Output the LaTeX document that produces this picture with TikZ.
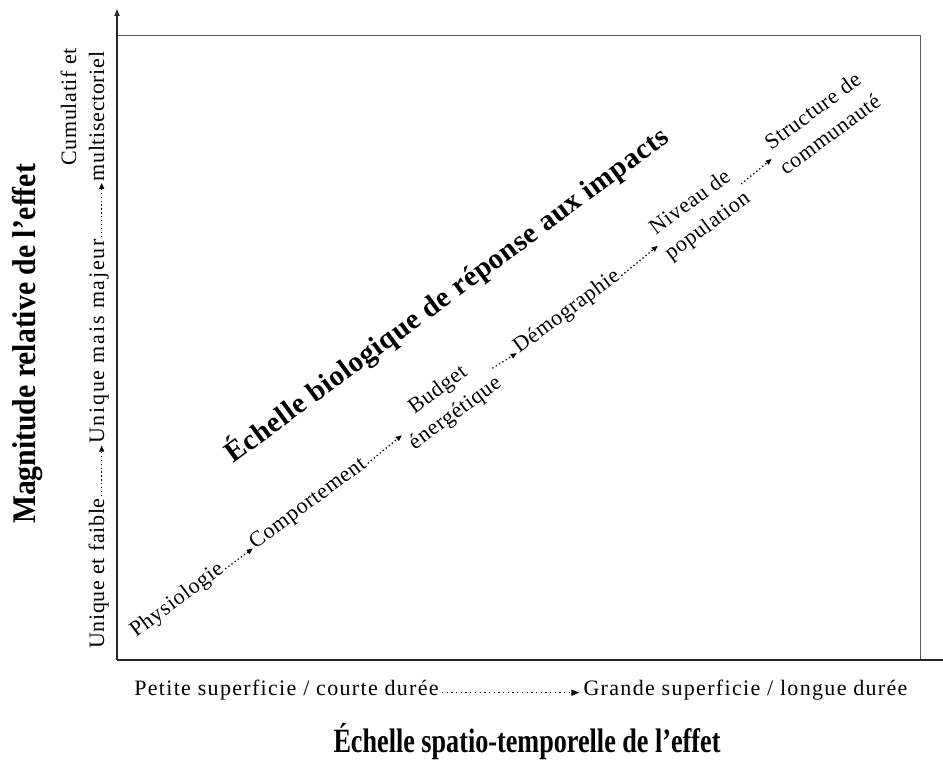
\documentclass[tikz,border=0pt]{standalone}
\usepackage{fontspec}
\usepackage{graphicx}
\setmainfont{Liberation Serif}
\newfontfamily\trk[LetterSpace=3]{Liberation Serif}
\newfontfamily\trkmid[LetterSpace=6]{Liberation Serif}
\newfontfamily\trkwide[LetterSpace=8]{Liberation Serif}
\newfontfamily\trkb[LetterSpace=2]{Liberation Serif}
\usetikzlibrary{arrows.meta}
\begin{document}
\begin{tikzpicture}[x=1pt,y=-1pt,
  axisline/.style={line width=2.2pt, black!85},
  frameline/.style={line width=0.9pt, black!65},
  sublabel/.style={inner sep=1pt, font=\trk\fontsize{22}{29}\selectfont},
  chainitem/.style={inner sep=1pt, font=\trk\fontsize{22}{29}\selectfont},
  dotarrow/.style={line width=1.3pt, dash pattern=on 1.3pt off 2.6pt,
     -{Triangle[length=6pt,width=5pt]}, shorten <=1pt, shorten >=0.5pt},
  longdot/.style={line width=1.3pt, dash pattern=on 1.3pt off 3.4pt,
     -{Triangle[length=8pt,width=6pt]}, shorten <=2pt, shorten >=3pt}]
\useasboundingbox (0,0) rectangle (943,760);

% axes and frame
\coordinate (O) at (117,660);
\coordinate (ytop) at (117,8);
\coordinate (xend) at (943,660);
\coordinate (tl) at (117,35);
\coordinate (tr) at (920,35);
\coordinate (br) at (920,660);
\draw[frameline] (tl) -- (tr) -- (br);
\draw[axisline] (O) -- (xend);
\draw[axisline, -{Latex[length=8pt,width=6pt]}] (O) -- (ytop);

% axis titles
\node[rotate=90, anchor=base, inner sep=0pt] (ytitle) at (35,344)
  {\fontsize{33}{40}\selectfont\bfseries\scalebox{0.9}[1]{Magnitude relative de l’effet}};
\node[anchor=base, inner sep=0pt] (xtitle) at (527,752)
  {\fontsize{34}{40}\selectfont\bfseries\scalebox{0.77}[1]{Échelle spatio-temporelle de l’effet}};

% y sub labels
\node[sublabel, rotate=90, anchor=base] (faible) at (104,573.5) {Unique et faible};
\node[sublabel, rotate=90, anchor=base, font=\trkwide\fontsize{22}{29}\selectfont] (majeur) at (104,341.5) {Unique mais majeur};
\node[sublabel, rotate=90, anchor=base] (multi) at (104,116.5) {multisectoriel};
\node[sublabel, rotate=90, anchor=base] (cumul) at (76,107) {Cumulatif et};
\draw[dotarrow] (faible.mid east) -- (majeur.mid west);
\draw[dotarrow] (majeur.mid east) -- (multi.mid west);

% x sub labels
\node[sublabel, anchor=base, font=\trkmid\fontsize{22}{29}\selectfont] (petite) at (286.5,695) {Petite superficie / courte durée};
\node[sublabel, anchor=base, font=\trkmid\fontsize{22}{29}\selectfont] (grande) at (745.5,695) {Grande superficie / longue durée};
\draw[longdot] (petite.mid east) -- (grande.mid west);

% diagonal title
\node[rotate=36.45, anchor=base, inner sep=0pt,
      font=\trkb\bfseries\fontsize{29}{34}\selectfont] (title) at (452,302.5)
  {Échelle biologique de réponse aux impacts};

% chain
\begin{scope}[shift={(136.2,637.6)}, x=1pt, y=1pt, rotate=36.5, transform shape]
  \node[chainitem, anchor=base] (phys) at (55,0) {Physiologie};
  \node[chainitem, anchor=base] (comp) at (218,0) {Comportement};
  \node[chainitem, align=center] (budg) at (390,4.7) {Budget\\énergétique};
  \node[chainitem, anchor=base] (demo) at (540,0) {Démographie};
  \node[chainitem, align=center] (nive) at (704,4.7) {Niveau de\\population};
  \node[chainitem, align=center] (stru) at (857,6.8) {Structure de\\communauté};
  \draw[dotarrow] (phys.mid east) -- (comp.mid west);
  \draw[dotarrow] (comp.mid east) -- (budg.west);
  \draw[dotarrow] (budg.east) -- (demo.mid west);
  \draw[dotarrow] (demo.mid east) -- (nive.west);
  \draw[dotarrow] (nive.east) -- (stru.west);
\end{scope}
\end{tikzpicture}
\end{document}
